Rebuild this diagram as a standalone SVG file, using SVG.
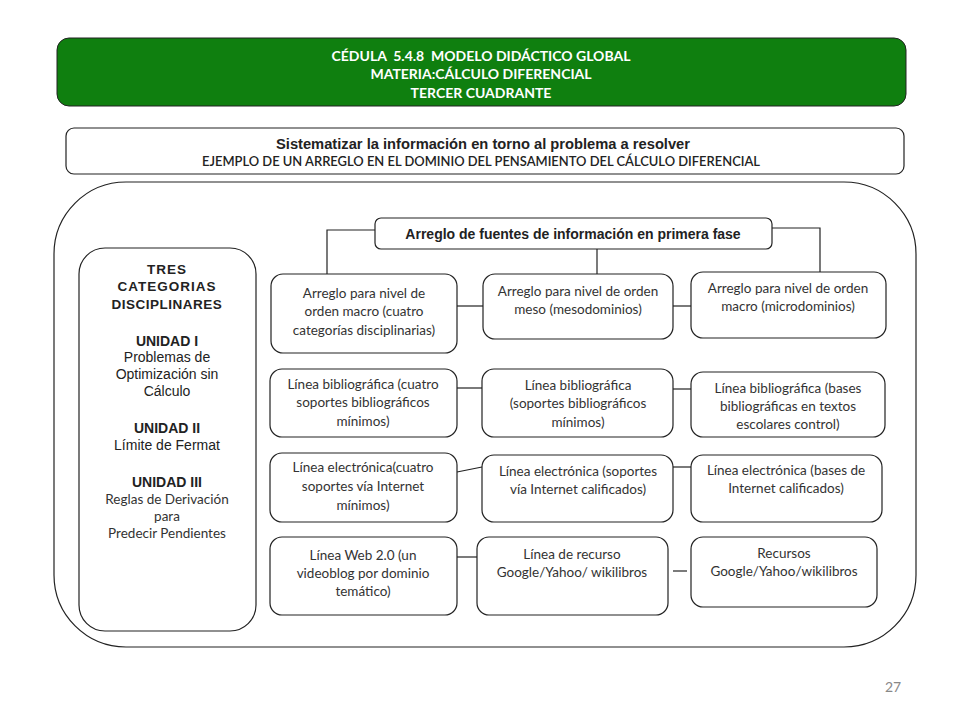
<svg xmlns="http://www.w3.org/2000/svg" width="960" height="720" viewBox="0 0 960 720">
<style>
.box{fill:#fff;stroke:#222;stroke-width:1.2}
.t{font-family:Lato,"Open Sans",sans-serif;font-size:13.5px;fill:#333;text-anchor:middle}
.ta{font-family:"Liberation Sans",Arial,sans-serif;font-size:14px;fill:#222;text-anchor:middle}
.tb{font-family:"Liberation Sans",Arial,sans-serif;font-size:14px;font-weight:bold;fill:#222;text-anchor:middle}
.w{font-family:Lato,"Open Sans",sans-serif;font-size:14px;font-weight:bold;fill:#fff;text-anchor:middle;white-space:pre}
.c{fill:none;stroke:#222;stroke-width:1.2}
</style>
<rect width="960" height="720" fill="#fff"/>
<g id="title">
<rect x="57" y="38" width="849" height="68" rx="12" fill="#0f7f0f" stroke="#222" stroke-width="1"/>
<text class="w" x="481" y="61" xml:space="preserve">CÉDULA  5.4.8  MODELO DIDÁCTICO GLOBAL</text>
<text class="w" x="481" y="79">MATERIA:CÁLCULO DIFERENCIAL</text>
<text class="w" x="481" y="98">TERCER CUADRANTE</text>
</g>
<g id="subtitle">
<rect class="box" x="66" y="128" width="838" height="46" rx="8"/>
<text class="tb" x="483" y="149" style="font-size:14.5px" textLength="414" lengthAdjust="spacingAndGlyphs">Sistematizar la información en torno al problema a resolver</text>
<text x="481" y="166" style="font-family:Lato,sans-serif;font-size:12.5px;font-weight:600;fill:#222;text-anchor:middle" textLength="558" lengthAdjust="spacingAndGlyphs">EJEMPLO DE UN ARREGLO EN EL DOMINIO DEL PENSAMIENTO DEL CÁLCULO DIFERENCIAL</text>
</g>
<g id="frame">
<rect class="box" x="54" y="182" width="862" height="465" rx="72"/>
</g>
<g id="categorias">
<rect class="box" x="79" y="248" width="177" height="383" rx="26"/>
<text class="tb" x="167" y="274" letter-spacing="1" style="font-size:13.5px">TRES</text>
<text class="tb" x="167" y="291" letter-spacing="1" style="font-size:13.5px">CATEGORIAS</text>
<text class="tb" x="167" y="309" letter-spacing="0.5" style="font-size:13.5px">DISCIPLINARES</text>
<text class="tb" x="167" y="346">UNIDAD I</text>
<text class="ta" x="167" y="362">Problemas de</text>
<text class="ta" x="167" y="379">Optimización sin</text>
<text class="ta" x="167" y="396">Cálculo</text>
<text class="tb" x="167" y="433">UNIDAD II</text>
<text class="ta" x="167" y="450">Límite de Fermat</text>
<text class="tb" x="167" y="487">UNIDAD III</text>
<text class="t" x="167" y="504">Reglas de Derivación</text>
<text class="t" x="167" y="521">para</text>
<text class="t" x="167" y="538">Predecir Pendientes</text>
</g>
<g id="connectors">
<polyline class="c" points="375,230 327,230 327,274"/>
<polyline class="c" points="772,228 820,228 820,272"/>
<line class="c" x1="597" y1="249" x2="597" y2="274"/>
<line class="c" x1="457" y1="306" x2="483" y2="306"/>
<line class="c" x1="673" y1="306" x2="691" y2="306"/>
<line class="c" x1="457" y1="388" x2="482" y2="388"/>
<line class="c" x1="673" y1="389" x2="691" y2="389"/>
<line class="c" x1="457" y1="472" x2="482" y2="467"/>
<line class="c" x1="673" y1="467" x2="691" y2="467"/>
<line class="c" x1="452" y1="557" x2="477" y2="557"/>
<line class="c" x1="673" y1="571" x2="687" y2="571"/>
</g>
<g id="header">
<rect class="box" x="375" y="218" width="397" height="31" rx="6"/>
<text class="tb" x="573" y="239" style="font-size:14px">Arreglo de fuentes de información en primera fase</text>
</g>
<g id="n-macro">
<rect class="box" x="271" y="274" width="186" height="79" rx="12"/>
<text class="t" x="364" y="298">Arreglo para nivel de</text>
<text class="t" x="364" y="316">orden macro (cuatro</text>
<text class="t" x="364" y="335">categorías disciplinarias)</text>
</g>
<g id="n-meso">
<rect class="box" x="483" y="274" width="190" height="65" rx="12"/>
<text class="t" x="578" y="296">Arreglo para nivel de orden</text>
<text class="t" x="578" y="314">meso (mesodominios)</text>
</g>
<g id="n-micro">
<rect class="box" x="691" y="272" width="195" height="66" rx="12"/>
<text class="t" x="788" y="293">Arreglo para nivel de orden</text>
<text class="t" x="788" y="311">macro (microdominios)</text>
</g>
<g id="n-bib1">
<rect class="box" x="270" y="369" width="187" height="68" rx="12"/>
<text class="t" x="363" y="389">Línea bibliográfica (cuatro</text>
<text class="t" x="363" y="407">soportes bibliográficos</text>
<text class="t" x="363" y="426">mínimos)</text>
</g>
<g id="n-bib2">
<rect class="box" x="482" y="369" width="191" height="68" rx="12"/>
<text class="t" x="578" y="390">Línea bibliográfica</text>
<text class="t" x="578" y="408">(soportes bibliográficos</text>
<text class="t" x="578" y="427">mínimos)</text>
</g>
<g id="n-bib3">
<rect class="box" x="691" y="372" width="194" height="65" rx="12"/>
<text class="t" x="788" y="393">Línea bibliográfica (bases</text>
<text class="t" x="788" y="411">bibliográficas en textos</text>
<text class="t" x="788" y="429">escolares control)</text>
</g>
<g id="n-ele1">
<rect class="box" x="270" y="453" width="187" height="69" rx="12"/>
<text class="t" x="363" y="472">Línea electrónica(cuatro</text>
<text class="t" x="363" y="491">soportes vía Internet</text>
<text class="t" x="363" y="510">mínimos)</text>
</g>
<g id="n-ele2">
<rect class="box" x="482" y="455" width="191" height="67" rx="12"/>
<text class="t" x="578" y="476">Línea electrónica (soportes</text>
<text class="t" x="578" y="494">vía Internet calificados)</text>
</g>
<g id="n-ele3">
<rect class="box" x="691" y="455" width="191" height="67" rx="12"/>
<text class="t" x="786" y="475">Línea electrónica (bases de</text>
<text class="t" x="786" y="493">Internet calificados)</text>
</g>
<g id="n-web1">
<rect class="box" x="270" y="537" width="187" height="78" rx="12"/>
<text class="t" x="363" y="560">Línea Web 2.0 (un</text>
<text class="t" x="363" y="578">videoblog por dominio</text>
<text class="t" x="363" y="596">temático)</text>
</g>
<g id="n-web2">
<rect class="box" x="477" y="537" width="191" height="78" rx="12"/>
<text class="t" x="572" y="559">Línea de recurso</text>
<text class="t" x="572" y="577">Google/Yahoo/ wikilibros</text>
</g>
<g id="n-web3">
<rect class="box" x="691" y="537" width="186" height="70" rx="12"/>
<text class="t" x="784" y="558">Recursos</text>
<text class="t" x="784" y="576">Google/Yahoo/wikilibros</text>
</g>
<text x="893" y="692" style="font-family:Lato,sans-serif;font-size:14px;fill:#888;text-anchor:middle">27</text>
</svg>
